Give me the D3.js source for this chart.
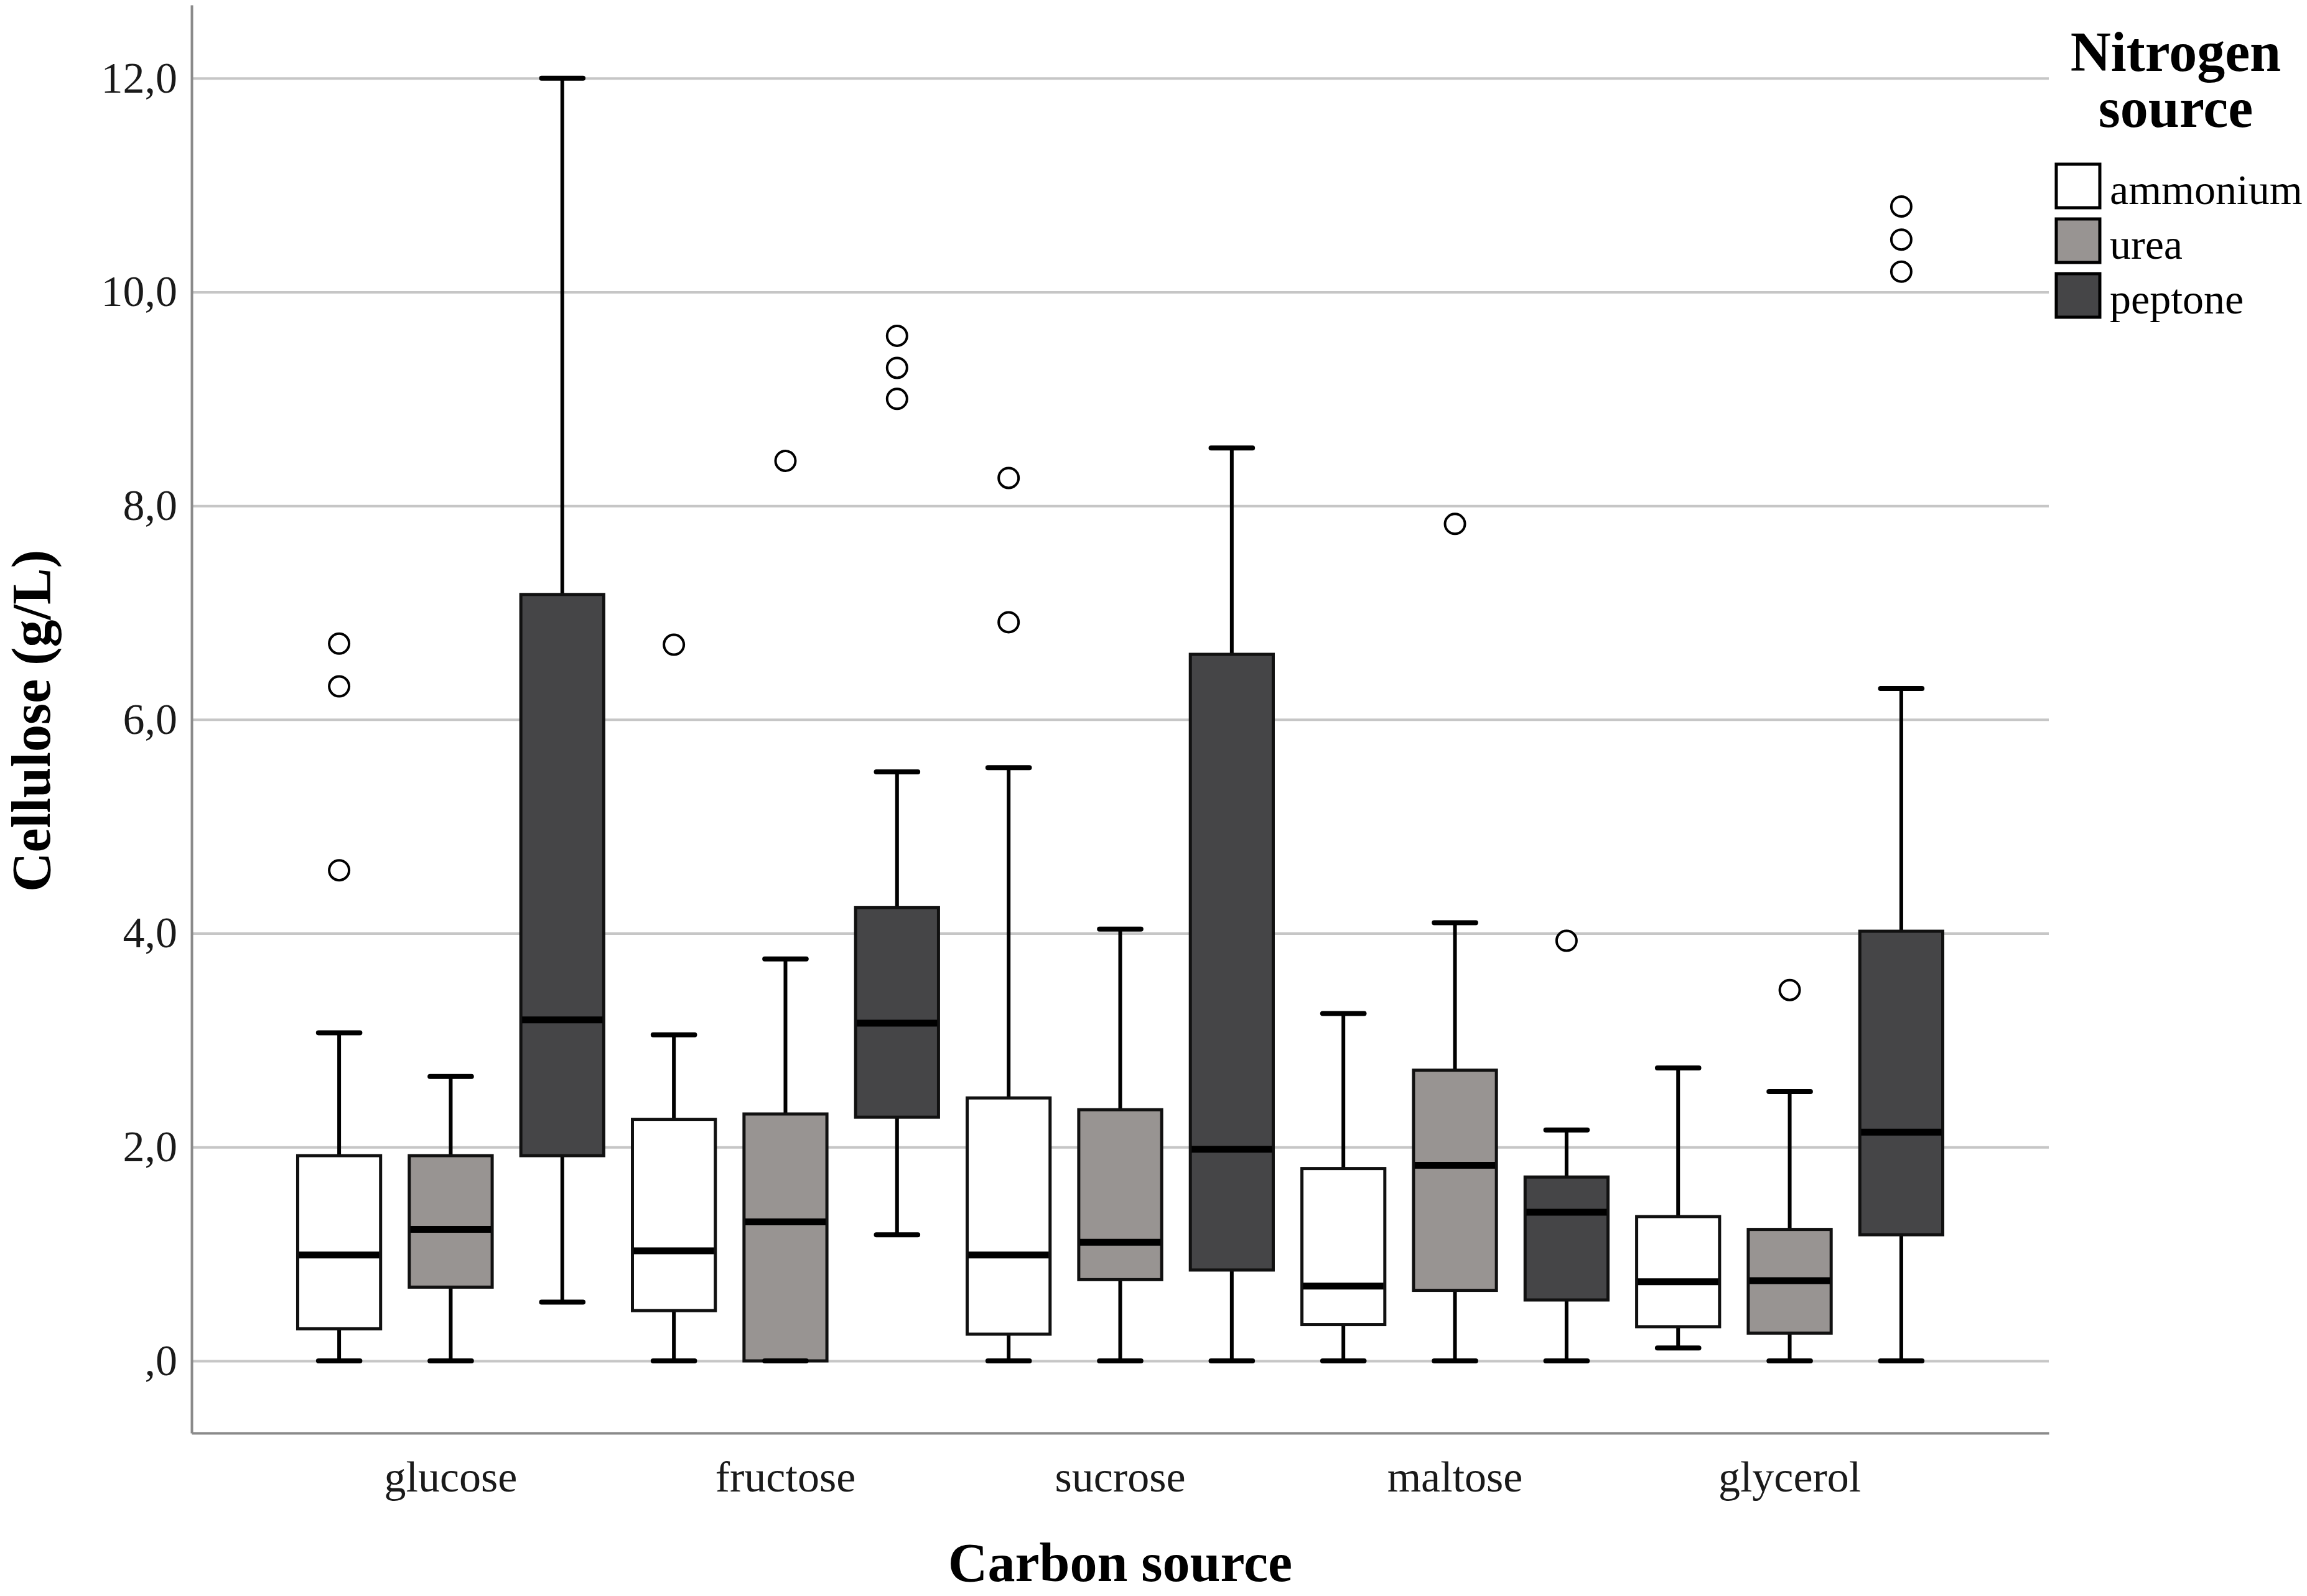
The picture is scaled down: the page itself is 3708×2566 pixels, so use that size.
<!DOCTYPE html>
<html>
<head>
<meta charset="utf-8">
<script src="https://cdn.jsdelivr.net/npm/d3@7"></script>
<style>
body { margin: 0; background: #fff; }
text { font-family: "Liberation Serif", "Times New Roman", serif; }
</style>
</head>
<body>
<svg width="3708" height="2566"></svg>
<script>
var carbonSources = ['glucose', 'fructose', 'sucrose', 'maltose', 'glycerol'];
var nitrogenSources = ['ammonium', 'urea', 'peptone'];

// one row per carbon source, one value per nitrogen source
var whiskerLow  = [[0, 0, 0.55], [0, 0, 1.18], [0, 0, 0],    [0, 0, 0],    [0.12, 0, 0]];
var q1          = [[0.30, 0.69, 1.92], [0.47, 0, 2.28], [0.25, 0.76, 0.85], [0.34, 0.66, 0.57], [0.32, 0.26, 1.18]];
var median      = [[0.99, 1.23, 3.19], [1.03, 1.30, 3.16], [0.99, 1.11, 1.98], [0.70, 1.83, 1.39], [0.74, 0.75, 2.14]];
var q3          = [[1.92, 1.92, 7.17], [2.26, 2.31, 4.24], [2.46, 2.35, 6.61], [1.80, 2.72, 1.72], [1.35, 1.23, 4.02]];
var whiskerHigh = [[3.07, 2.66, 12.0], [3.05, 3.76, 5.51], [5.55, 4.04, 8.54], [3.25, 4.10, 2.16], [2.74, 2.52, 6.29]];
var outliers = [
    [[4.59, 6.31, 6.71], [], []],
    [[6.70], [8.42], [9.00, 9.29, 9.59]],
    [[6.91, 8.26], [], []],
    [[], [7.83], [3.93]],
    [[], [3.47], [10.19, 10.49, 10.80]]
];

var yTicks = [0, 2, 4, 6, 8, 10, 12];
var yTickLabels = [',0', '2,0', '4,0', '6,0', '8,0', '10,0', '12,0'];

var boxes = [];
carbonSources.forEach(function(c, i) {
    nitrogenSources.forEach(function(n, j) {
        boxes.push({
            carbon: c, nitrogen: n,
            low: whiskerLow[i][j], q1: q1[i][j], median: median[i][j],
            q3: q3[i][j], high: whiskerHigh[i][j], outliers: outliers[i][j]
        });
    });
});

var svg = d3.select('svg');
var plotLeft = 308, plotRight = 3293, plotBottom = 2304, plotTop = 8;

var x0 = d3.scaleBand()
    .domain(carbonSources)
    .range([plotLeft, plotRight])
    .paddingInner(0)
    .paddingOuter(0.274);

var x1 = d3.scaleBand()
    .domain(nitrogenSources)
    .range([0, x0.bandwidth()])
    .paddingInner(0.257)
    .paddingOuter(0.1285);

var y = d3.scaleLinear()
    .domain([-0.675, 12.685])
    .range([plotBottom, plotTop]);

var fill = d3.scaleOrdinal()
    .domain(nitrogenSources)
    .range(['#ffffff', '#989492', '#454547']);

// grid
var grid = svg.append('g')
    .attr('transform', 'translate(' + plotLeft + ',0)')
    .call(d3.axisLeft(y).tickValues(yTicks).tickSize(-(plotRight - plotLeft)).tickFormat(''));
grid.select('.domain').remove();
grid.selectAll('line').attr('stroke', '#c6c6c6').attr('stroke-width', 4);

// axes
var yAxis = svg.append('g')
    .attr('transform', 'translate(' + plotLeft + ',0)')
    .call(d3.axisLeft(y).tickValues(yTicks)
        .tickFormat(function(d, i) { return yTickLabels[i]; })
        .tickSize(0).tickSizeOuter(0).tickPadding(23));
yAxis.select('.domain').attr('stroke', '#8a8a8a').attr('stroke-width', 4);
yAxis.selectAll('text').attr('font-size', 70).attr('fill', '#1a1a1a')
    .style('font-family', '"Liberation Serif", serif');

var xAxis = svg.append('g')
    .attr('transform', 'translate(0,' + plotBottom + ')')
    .call(d3.axisBottom(x0).tickSize(0).tickSizeOuter(0).tickPadding(44));
xAxis.select('.domain').attr('stroke', '#8a8a8a').attr('stroke-width', 4);
xAxis.selectAll('text').attr('font-size', 70).attr('fill', '#1a1a1a')
    .style('font-family', '"Liberation Serif", serif');

// boxes
var bw = x1.bandwidth();
var g = svg.selectAll('.box')
    .data(boxes)
    .enter()
    .append('g')
    .attr('class', 'box')
    .attr('transform', function(d) { return 'translate(' + (x0(d.carbon) + x1(d.nitrogen)) + ',0)'; });

g.append('line')
    .attr('x1', bw / 2).attr('x2', bw / 2)
    .attr('y1', function(d) { return y(d.q3); })
    .attr('y2', function(d) { return y(d.high); })
    .attr('stroke', '#000').attr('stroke-width', 6);

g.append('line')
    .attr('x1', bw / 2).attr('x2', bw / 2)
    .attr('y1', function(d) { return y(d.q1); })
    .attr('y2', function(d) { return y(d.low); })
    .attr('stroke', '#000').attr('stroke-width', 6);

g.append('rect')
    .attr('x', 0)
    .attr('y', function(d) { return y(d.q3); })
    .attr('width', bw)
    .attr('height', function(d) { return y(d.q1) - y(d.q3); })
    .attr('fill', function(d) { return fill(d.nitrogen); })
    .attr('stroke', '#111').attr('stroke-width', 5);

g.append('line')
    .attr('x1', bw / 4).attr('x2', bw * 3 / 4)
    .attr('y1', function(d) { return y(d.high); })
    .attr('y2', function(d) { return y(d.high); })
    .attr('stroke', '#000').attr('stroke-width', 8).attr('stroke-linecap', 'round');

g.append('line')
    .attr('x1', bw / 4).attr('x2', bw * 3 / 4)
    .attr('y1', function(d) { return y(d.low); })
    .attr('y2', function(d) { return y(d.low); })
    .attr('stroke', '#000').attr('stroke-width', 8).attr('stroke-linecap', 'round');

g.append('line')
    .attr('x1', 2).attr('x2', bw - 2)
    .attr('y1', function(d) { return y(d.median); })
    .attr('y2', function(d) { return y(d.median); })
    .attr('stroke', '#000').attr('stroke-width', 11);

g.selectAll('circle')
    .data(function(d) { return d.outliers; })
    .enter()
    .append('circle')
    .attr('cx', bw / 2)
    .attr('cy', function(v) { return y(v); })
    .attr('r', 16)
    .attr('fill', '#fff')
    .attr('stroke', '#000').attr('stroke-width', 4);

// titles
svg.append('text')
    .attr('transform', 'translate(80,1159)rotate(-90)')
    .attr('text-anchor', 'middle')
    .attr('font-size', 88).attr('font-weight', 'bold')
    .text('Cellulose (g/L)');

svg.append('text')
    .attr('x', x0(carbonSources[2]) + x0.bandwidth() / 2)
    .attr('y', 2542)
    .attr('text-anchor', 'middle')
    .attr('font-size', 88).attr('font-weight', 'bold')
    .text('Carbon source');

// legend
var legend = svg.append('g');
legend.append('text')
    .attr('x', 3497).attr('y', 114)
    .attr('text-anchor', 'middle')
    .attr('font-size', 90).attr('font-weight', 'bold')
    .text('Nitrogen');
legend.append('text')
    .attr('x', 3497).attr('y', 204)
    .attr('text-anchor', 'middle')
    .attr('font-size', 90).attr('font-weight', 'bold')
    .text('source');

var item = legend.selectAll('.item')
    .data(nitrogenSources)
    .enter()
    .append('g')
    .attr('class', 'item')
    .attr('transform', function(d, i) { return 'translate(3305,' + (264 + i * 88) + ')'; });

item.append('rect')
    .attr('width', 70).attr('height', 70)
    .attr('fill', function(d) { return fill(d); })
    .attr('stroke', '#000').attr('stroke-width', 5);

item.append('text')
    .attr('x', 86).attr('y', 64)
    .attr('font-size', 68)
    .text(function(d) { return d; });
</script>
</body>
</html>
